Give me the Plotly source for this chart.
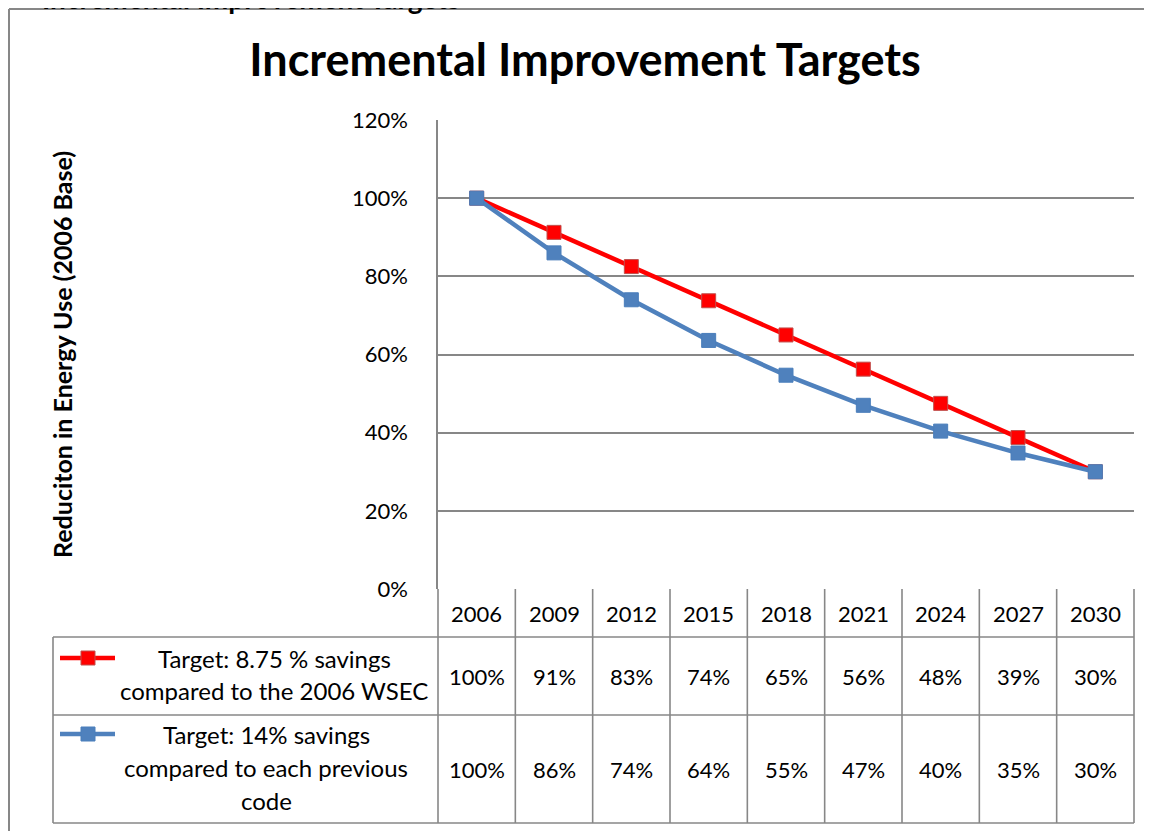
import plotly.graph_objects as go

years = ["2006", "2009", "2012", "2015", "2018", "2021", "2024", "2027", "2030"]
red_vals = [100, 91.25, 82.5, 73.75, 65, 56.25, 47.5, 38.75, 30]
blue_vals = [100, 86, 74, 63.6, 54.7, 47, 40.4, 34.8, 30]
red_labels = ["100%", "91%", "83%", "74%", "65%", "56%", "48%", "39%", "30%"]
blue_labels = ["100%", "86%", "74%", "64%", "55%", "47%", "40%", "35%", "30%"]
red_name = ["Target: 8.75 % savings", "compared to the 2006 WSEC"]
blue_name = ["Target: 14% savings", "compared to each previous", "code"]
y_ticks = [0, 20, 40, 60, 80, 100, 120]
y_ticktext = ["0%", "20%", "40%", "60%", "80%", "100%", "120%"]

W, H = 1152, 831
OFF = 8  # page body margin offset
# target screen coordinates of the plot area
SL, SR, ST, SB = 438, 1134, 120, 589
L, R, T, B = SL - OFF, SR - OFF, ST - OFF, SB - OFF
PW, PH = R - L, B - T

def px(xs_):
    return (xs_ - OFF - L) / PW

def py(ys_):
    return (B - (ys_ - OFF)) / PH

FONT = "Lato, 'Open Sans', sans-serif"
GRID = "#878787"
RED = "#ff0000"
BLUE = "#4f81bd"

xs = list(range(len(years)))

fig = go.Figure()
fig.add_trace(go.Scatter(
    x=xs, y=red_vals, mode="lines+markers", name=" ".join(red_name),
    line=dict(color=RED, width=4.5),
    marker=dict(symbol="square", size=14, color=RED, line=dict(color="#c0504d", width=1)),
    showlegend=False, cliponaxis=False,
))
fig.add_trace(go.Scatter(
    x=xs, y=blue_vals, mode="lines+markers", name=" ".join(blue_name),
    line=dict(color=BLUE, width=4.5),
    marker=dict(symbol="square", size=14, color=BLUE, line=dict(color="#4a7ebb", width=1)),
    showlegend=False, cliponaxis=False,
))

shapes = []
def line(x0, y0, x1, y1, color=GRID, width=1.6):
    shapes.append(dict(type="line", xref="paper", yref="paper", x0=x0, y0=y0, x1=x1, y1=y1,
                       line=dict(color=color, width=width), layer="below"))

# outer chart border
line(px(9), py(9), px(9), py(839), width=2)
line(px(9), py(9), px(W + OFF), py(9), width=2)

# table rows
row_year_bot, row1_bot, row2_bot = 637, 715, 823
line(px(53), py(row_year_bot), 1, py(row_year_bot))
line(px(53), py(row1_bot), 1, py(row1_bot))
line(px(53), py(row2_bot), 1, py(row2_bot))
line(px(53), py(row_year_bot), px(53), py(row2_bot))
n = len(years)
for k in range(n + 1):
    line(k / n, 0, k / n, py(row2_bot))

# legend icons
for color, border, yc in [(RED, "#c0504d", 658), (BLUE, "#4a7ebb", 734)]:
    shapes.append(dict(type="line", xref="paper", yref="paper", x0=px(60), x1=px(115),
                       y0=py(yc), y1=py(yc), line=dict(color=color, width=4.5)))
    shapes.append(dict(type="rect", xref="paper", yref="paper", x0=px(81), x1=px(95),
                       y0=py(yc + 7), y1=py(yc - 7), fillcolor=color, line=dict(color=border, width=1)))

annotations = []
def text(x, y, s, size=22, xref="paper", bold=False, xanchor="center", yanchor="middle", **kw):
    annotations.append(dict(x=x, y=y, xref=xref, yref="paper", text=("<b>%s</b>" % s) if bold else s,
                            showarrow=False, xanchor=xanchor, yanchor=yanchor,
                            font=dict(family=FONT, size=size, color="black"), **kw))

for i, yr in enumerate(years):
    text(xs[i], py(613), yr, xref="x")
    text(xs[i], py(676), red_labels[i], xref="x")
    text(xs[i], py(769), blue_labels[i], xref="x")

for j, s in enumerate(red_name):
    text(px(274), py(658 + 32 * j), s, size=24)
for j, s in enumerate(blue_name):
    text(px(266), py(734 + 33 * j), s, size=24)

# y-axis title
text(px(62), py(355), "Reduciton in Energy Use (2006 Base)", size=25, bold=True, textangle=-90)

# partially visible heading at the very top
text(px(251), py(17.5), "Incremental Improvement Targets", size=28, bold=True, yanchor="bottom")

fig.update_layout(
    width=W, height=H,
    margin=dict(l=L, r=W - R, t=T, b=H - B, autoexpand=False),
    paper_bgcolor="white", plot_bgcolor="white",
    title=dict(text="<b>Incremental Improvement Targets</b>", x=(585 - OFF) / W, xanchor="center",
               y=1 - (60 - OFF) / H, yanchor="middle", yref="container",
               font=dict(family=FONT, size=45, color="black")),
    xaxis=dict(range=[-0.5, n - 0.5], showgrid=False, zeroline=False, showticklabels=False,
               showline=False, ticks="", automargin=False),
    yaxis=dict(range=[0, 120], tickvals=y_ticks, ticktext=y_ticktext, showgrid=True,
               gridcolor=GRID, gridwidth=1.6, zeroline=False, showline=True, linecolor=GRID,
               linewidth=1.6, ticks="", ticklabelstandoff=24, automargin=False,
               tickfont=dict(family=FONT, size=22, color="black")),
    shapes=shapes, annotations=annotations,
)

fig.write_html("out.html")
